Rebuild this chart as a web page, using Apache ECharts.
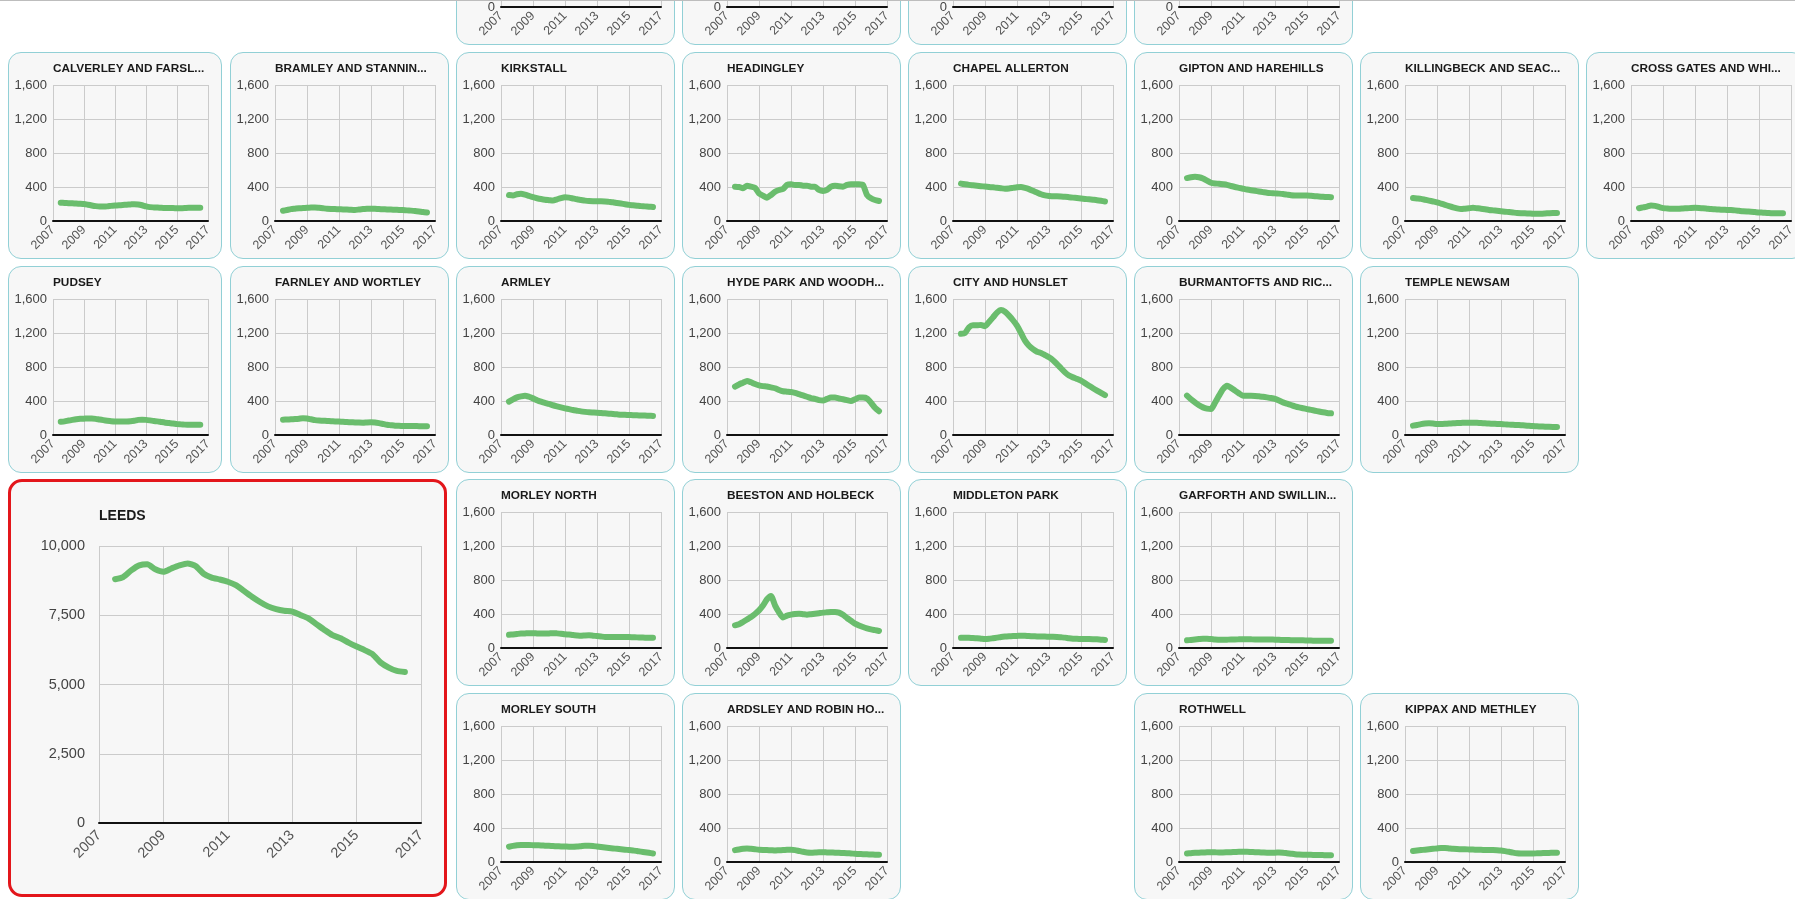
<!DOCTYPE html>
<html>
<head>
<meta charset="utf-8">
<script src="https://cdn.jsdelivr.net/npm/echarts@6/dist/echarts.min.js"></script>
<style>
html, body { margin: 0; padding: 0; background: #fff; overflow: hidden; }
#page { position: relative; width: 1795px; height: 899px; overflow: hidden; }
.topline { position: absolute; left: 0; top: 0; width: 100%; height: 1px; background: #bdbdbd; z-index: 5; }
.panel {
  position: absolute; box-sizing: border-box; width: 219px; height: 207px;
  background: #f7f7f7; border: 1px solid #92d0d6; border-radius: 13px; overflow: hidden;
}
.panel.first { width: 214px; }
.panel.big { width: 439px; height: 418px; border: 3px solid #e3161b; border-radius: 14px; }
.panel .chart { position: absolute; left: 0; top: 0; right: 0; bottom: 0; }
</style>
</head>
<body>
<div id="page"><div class="topline"></div></div>
<script>
// quarterly points, mid 2007 -> mid 2016
const quarters = [2007.5, 2007.75, 2008, 2008.25, 2008.5, 2008.75, 2009, 2009.25, 2009.5, 2009.75,
  2010, 2010.25, 2010.5, 2010.75, 2011, 2011.25, 2011.5, 2011.75, 2012, 2012.25, 2012.5, 2012.75,
  2013, 2013.25, 2013.5, 2013.75, 2014, 2014.25, 2014.5, 2014.75, 2015, 2015.25, 2015.5, 2015.75,
  2016, 2016.25, 2016.5]
const yearTicks = [2007, 2009, 2011, 2013, 2015, 2017]
const wardTicks = [0, 400, 800, 1200, 1600]
const leedsTicks = [0, 2500, 5000, 7500, 10000]

const leeds = [8800, 8880, 9120, 9300, 9340, 9160, 9070, 9190, 9300, 9370, 9280, 9000, 8860, 8790, 8710,
  8590, 8380, 8170, 7980, 7820, 7720, 7660, 7630, 7510, 7390, 7180, 6970, 6780, 6670, 6510, 6370, 6240,
  6090, 5790, 5610, 5490, 5450]
const calverley = [215, 212, 210, 208, 205, 203, 200, 192, 183, 175, 170, 170, 172, 178, 182, 185, 188,
  192, 195, 198, 195, 185, 172, 163, 160, 158, 155, 153, 152, 152, 150, 150, 152, 155, 155, 155, 155]
const bramley = [120, 130, 140, 145, 150, 152, 155, 158, 160, 155, 150, 145, 142, 140, 138, 136, 135, 132,
  130, 135, 140, 143, 145, 143, 140, 138, 136, 134, 132, 130, 128, 125, 122, 118, 112, 105, 100]
const kirkstall = [305, 300, 315, 320, 310, 295, 280, 268, 258, 250, 245, 240, 255, 270, 280, 275, 265, 255,
  248, 240, 235, 233, 232, 232, 230, 225, 220, 212, 205, 198, 190, 185, 180, 175, 172, 168, 165]
const headingley = [404, 400, 384, 416, 404, 392, 325, 298, 275, 306, 345, 365, 376, 424, 431, 424, 424, 416,
  416, 404, 404, 365, 353, 365, 404, 416, 408, 404, 424, 431, 431, 431, 424, 306, 267, 247, 235]
const chapelAllerton = [440, 432, 425, 420, 415, 410, 405, 400, 396, 390, 385, 380, 382, 390, 398, 400, 390,
  375, 355, 335, 315, 302, 295, 290, 290, 288, 285, 280, 275, 270, 265, 260, 255, 250, 245, 238, 230]
const gipton = [505, 515, 520, 515, 500, 475, 450, 442, 438, 432, 425, 412, 400, 390, 380, 370, 362, 355, 348,
  340, 332, 328, 325, 322, 318, 310, 302, 300, 300, 300, 300, 296, 292, 288, 285, 282, 280]
const killingbeck = [270, 265, 260, 250, 240, 230, 220, 205, 190, 175, 160, 148, 140, 145, 150, 155, 150, 145,
  138, 130, 125, 120, 115, 110, 105, 100, 95, 92, 90, 88, 85, 85, 85, 88, 92, 95, 95]
const crossGates = [150, 160, 170, 182, 178, 165, 152, 148, 145, 145, 145, 148, 150, 153, 155, 153, 150, 145,
  140, 138, 135, 132, 130, 128, 125, 120, 115, 112, 110, 105, 100, 98, 95, 92, 90, 90, 90]
const pudsey = [155, 160, 170, 178, 185, 190, 192, 195, 195, 190, 182, 175, 168, 162, 160, 160, 160, 160, 162,
  168, 178, 180, 178, 172, 165, 160, 152, 145, 140, 135, 128, 125, 122, 120, 120, 120, 120]
const farnley = [180, 182, 185, 188, 192, 198, 195, 185, 175, 170, 168, 165, 162, 160, 158, 155, 152, 150, 148,
  146, 145, 148, 150, 148, 140, 130, 120, 115, 110, 108, 106, 105, 105, 105, 104, 104, 104]
const armley = [392, 420, 443, 455, 463, 450, 431, 410, 392, 378, 365, 350, 337, 325, 314, 304, 294, 286, 278,
  272, 267, 265, 263, 259, 255, 251, 247, 243, 239, 237, 235, 233, 231, 230, 228, 226, 224]
const hydePark = [570, 595, 615, 635, 620, 600, 585, 575, 570, 560, 550, 530, 515, 510, 505, 495, 480, 465, 450,
  435, 425, 410, 405, 425, 440, 440, 430, 420, 410, 400, 420, 440, 440, 430, 380, 320, 280]
const cityHunslet = [1190, 1200, 1267, 1290, 1290, 1295, 1280, 1330, 1384, 1440, 1470, 1450, 1404, 1350, 1286,
  1200, 1110, 1050, 1010, 980, 965, 940, 914, 880, 835, 785, 737, 700, 678, 660, 640, 610, 580, 550, 522, 495, 470]
const burmantofts = [463, 420, 384, 350, 325, 310, 305, 380, 463, 540, 580, 555, 522, 490, 463, 463, 463, 460,
  455, 450, 443, 435, 424, 405, 384, 368, 353, 338, 325, 315, 305, 295, 286, 276, 267, 260, 255]
const templeNewsam = [110, 118, 128, 135, 138, 135, 130, 130, 132, 135, 138, 140, 142, 145, 145, 145, 143, 140,
  138, 135, 132, 130, 128, 125, 122, 120, 118, 115, 112, 108, 105, 102, 100, 98, 96, 95, 95]
const morleyNorth = [155, 160, 165, 170, 172, 175, 175, 172, 170, 170, 172, 175, 172, 168, 162, 158, 152, 148,
  145, 148, 150, 145, 140, 135, 130, 130, 130, 130, 130, 128, 128, 126, 125, 124, 122, 120, 120]
const beeston = [267, 280, 306, 335, 365, 400, 443, 500, 573, 612, 502, 420, 360, 380, 392, 400, 404, 398, 392,
  398, 404, 410, 416, 420, 424, 425, 416, 390, 353, 320, 286, 265, 247, 232, 220, 210, 200]
const middleton = [120, 122, 120, 118, 115, 110, 105, 108, 115, 122, 130, 135, 138, 140, 142, 145, 143, 140, 138,
  136, 135, 134, 133, 132, 130, 126, 122, 115, 110, 108, 106, 105, 105, 104, 102, 98, 95]
const garforth = [90, 95, 100, 105, 110, 108, 105, 100, 98, 96, 98, 100, 100, 102, 104, 104, 102, 100, 100, 100,
  100, 99, 98, 96, 95, 94, 92, 90, 90, 90, 88, 87, 86, 85, 85, 85, 85]
const morleySouth = [180, 190, 198, 200, 200, 200, 198, 196, 195, 192, 190, 188, 185, 183, 182, 180, 180, 182,
  186, 190, 190, 188, 182, 176, 170, 165, 160, 155, 150, 145, 140, 135, 130, 122, 115, 108, 100]
const ardsley = [140, 148, 155, 160, 155, 150, 145, 142, 140, 138, 135, 138, 140, 143, 145, 140, 130, 120, 112,
  110, 112, 115, 115, 113, 112, 110, 108, 106, 104, 100, 97, 94, 92, 90, 88, 86, 85]
const rothwell = [100, 104, 108, 110, 112, 114, 115, 114, 112, 112, 114, 116, 118, 120, 120, 120, 118, 116, 114,
  112, 110, 110, 110, 112, 110, 104, 98, 92, 88, 86, 85, 84, 83, 82, 81, 80, 80]
const kippax = [130, 135, 140, 145, 150, 155, 160, 165, 165, 160, 155, 152, 150, 150, 148, 146, 145, 143, 142,
  140, 140, 138, 135, 128, 120, 110, 102, 100, 100, 100, 100, 102, 104, 105, 107, 108, 110]

// grid of small multiples: col, row (row 0 is scrolled mostly off the top)
const wards = [
  { name: '', col: 2, row: 0, data: [] },
  { name: '', col: 3, row: 0, data: [] },
  { name: '', col: 4, row: 0, data: [] },
  { name: '', col: 5, row: 0, data: [] },
  { name: 'CALVERLEY AND FARSL...', col: 0, row: 1, data: calverley },
  { name: 'BRAMLEY AND STANNIN...', col: 1, row: 1, data: bramley },
  { name: 'KIRKSTALL', col: 2, row: 1, data: kirkstall },
  { name: 'HEADINGLEY', col: 3, row: 1, data: headingley },
  { name: 'CHAPEL ALLERTON', col: 4, row: 1, data: chapelAllerton },
  { name: 'GIPTON AND HAREHILLS', col: 5, row: 1, data: gipton },
  { name: 'KILLINGBECK AND SEAC...', col: 6, row: 1, data: killingbeck },
  { name: 'CROSS GATES AND WHI...', col: 7, row: 1, data: crossGates },
  { name: 'PUDSEY', col: 0, row: 2, data: pudsey },
  { name: 'FARNLEY AND WORTLEY', col: 1, row: 2, data: farnley },
  { name: 'ARMLEY', col: 2, row: 2, data: armley },
  { name: 'HYDE PARK AND WOODH...', col: 3, row: 2, data: hydePark },
  { name: 'CITY AND HUNSLET', col: 4, row: 2, data: cityHunslet },
  { name: 'BURMANTOFTS AND RIC...', col: 5, row: 2, data: burmantofts },
  { name: 'TEMPLE NEWSAM', col: 6, row: 2, data: templeNewsam },
  { name: 'MORLEY NORTH', col: 2, row: 3, data: morleyNorth },
  { name: 'BEESTON AND HOLBECK', col: 3, row: 3, data: beeston },
  { name: 'MIDDLETON PARK', col: 4, row: 3, data: middleton },
  { name: 'GARFORTH AND SWILLIN...', col: 5, row: 3, data: garforth },
  { name: 'MORLEY SOUTH', col: 2, row: 4, data: morleySouth },
  { name: 'ARDSLEY AND ROBIN HO...', col: 3, row: 4, data: ardsley },
  { name: 'ROTHWELL', col: 5, row: 4, data: rothwell },
  { name: 'KIPPAX AND METHLEY', col: 6, row: 4, data: kippax }
]

const page = document.getElementById('page')
const LINE = '#6abd6d'
const FONT = '"Liberation Sans", Arial, sans-serif'

function colX(c) { return c === 0 ? 8 : 4 + c * 226 }
function rowY(r) { return Math.round(52 + (r - 1) * 213.6) }

function makePanel(cls, left, top) {
  const p = document.createElement('div')
  p.className = 'panel' + (cls ? ' ' + cls : '')
  p.style.left = left + 'px'
  p.style.top = top + 'px'
  const c = document.createElement('div')
  c.className = 'chart'
  p.appendChild(c)
  page.appendChild(p)
  return echarts.init(c)
}

function option(name, vals, yTicks, big) {
  return {
    animation: false,
    textStyle: { fontFamily: FONT },
    title: {
      text: name, left: big ? 88 : 44, top: big ? 27 : 10, padding: 0,
      textStyle: { fontSize: big ? 14 : 11.8, fontWeight: 'bold', color: '#1a1a1a', fontFamily: FONT }
    },
    grid: big ? { left: 88, right: 23, top: 64, bottom: 71 } : { left: 44, right: 13, top: 32, bottom: 37 },
    xAxis: {
      type: 'value', min: yearTicks[0], max: yearTicks[yearTicks.length - 1], interval: 2,
      axisLine: { show: true, lineStyle: { color: '#111', width: 2 } },
      axisTick: { show: false },
      splitLine: { show: true, lineStyle: { color: '#cbcbcb', width: 1 } },
      axisLabel: {
        rotate: 45, fontSize: big ? 14.5 : 12.5, color: '#555', margin: big ? 10 : 7,
        fontFamily: FONT, formatter: v => String(v)
      }
    },
    yAxis: {
      type: 'value', min: yTicks[0], max: yTicks[yTicks.length - 1], interval: yTicks[1] - yTicks[0],
      axisLine: { show: false }, axisTick: { show: false },
      splitLine: { lineStyle: { color: '#cbcbcb', width: 1 } },
      axisLabel: { fontSize: big ? 14.5 : 13, color: '#444', margin: big ? 14 : 6, fontFamily: FONT }
    },
    series: [{
      type: 'line', data: vals.map((v, i) => [quarters[i], v]),
      showSymbol: false, smooth: 0.2, silent: true,
      lineStyle: { color: LINE, width: 6, cap: 'round', join: 'round' }
    }]
  }
}

wards.forEach(w => {
  const chart = makePanel(w.col === 0 ? 'first' : '', colX(w.col), rowY(w.row))
  chart.setOption(option(w.name, w.data, wardTicks, false))
})

const big = makePanel('big', 8, 479)
big.setOption(option('LEEDS', leeds, leedsTicks, true))
</script>
</body>
</html>
